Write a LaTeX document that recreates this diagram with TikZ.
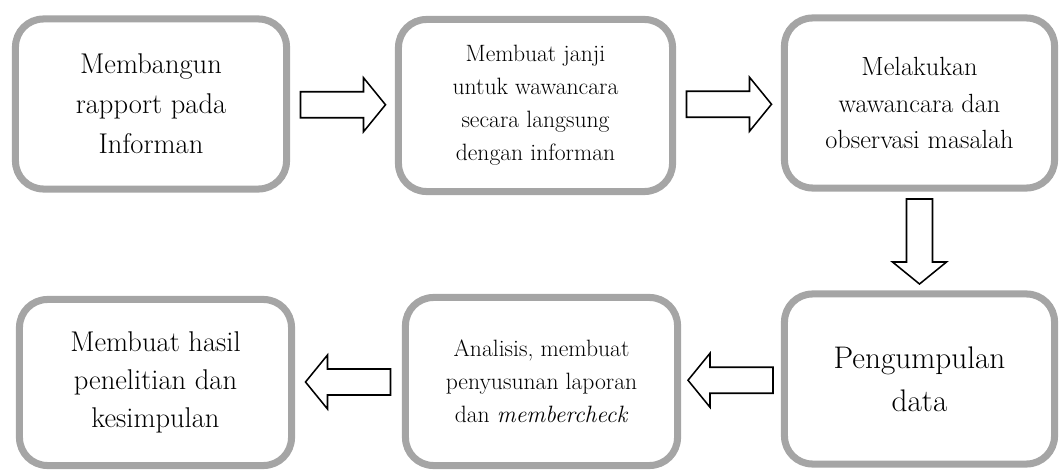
\documentclass[tikz,border=0pt]{standalone}
\usetikzlibrary{calc}

\definecolor{abu}{RGB}{165,165,165}

\tikzset{
  tahap/.style={draw=abu, line width=5pt, rounded corners=0.7cm, fill=white,
    align=center, inner sep=0pt, minimum width=6.8cm, minimum height=4.25cm},
  panah/.pic={
    \draw[line width=1.1pt, fill=white, line join=miter]
      (-42,-13) -- (21,-13) -- (21,-27) -- (43,0) -- (21,27) -- (21,13) -- (-42,13) -- cycle;
  }
}

\begin{document}
\begin{tikzpicture}[x=0.025cm, y=-0.025cm]
   \useasboundingbox (0,0) rectangle (1064,471);

   % baris atas
   \node[tahap, minimum width=6.775cm, font=\fontsize{20.3}{28.5}\selectfont] (rapport) at (151,104)
      {Membangun\\rapport pada\\Informan};
   \node[tahap, minimum width=6.85cm, minimum height=4.3cm, font=\fontsize{16.8}{23.5}\selectfont] (janji) at (535.5,105.5)
      {Membuat janji\\untuk wawancara\\secara langsung\\dengan informan};
   \node[tahap, minimum width=6.75cm, font=\fontsize{18.7}{26}\selectfont] (wawancara) at (919.5,103)
      {Melakukan\\wawancara dan\\observasi masalah};

   % baris bawah
   \node[tahap, minimum width=6.75cm, font=\fontsize{22.2}{30.6}\selectfont] (data) at (919.5,379)
      {Pengumpulan\\data};
   \node[tahap, minimum height=4.2cm, font=\fontsize{16.8}{23.5}\selectfont] (analisis) at (541.5,381.5)
      {Analisis, membuat\\penyusunan laporan\\dan \textit{membercheck}};
   \node[tahap, minimum height=4.15cm, font=\fontsize{20.3}{27}\selectfont] (hasil) at (155.5,382.5)
      {Membuat hasil\\penelitian dan\\kesimpulan};

   % panah blok
   \pic at ($(rapport.east)!0.5!(janji.west)$) {panah};
   \pic at ($(janji.east)!0.5!(wawancara.west)$) {panah};
   \pic[rotate=-90] at ($(wawancara.south)!0.5!(data.north)$) {panah};
   \pic[rotate=180] at ($(data.west)!0.5!(analisis.east)$) {panah};
   \pic[rotate=180] at ($(analisis.west)!0.5!(hasil.east)$) {panah};
\end{tikzpicture}
\end{document}
